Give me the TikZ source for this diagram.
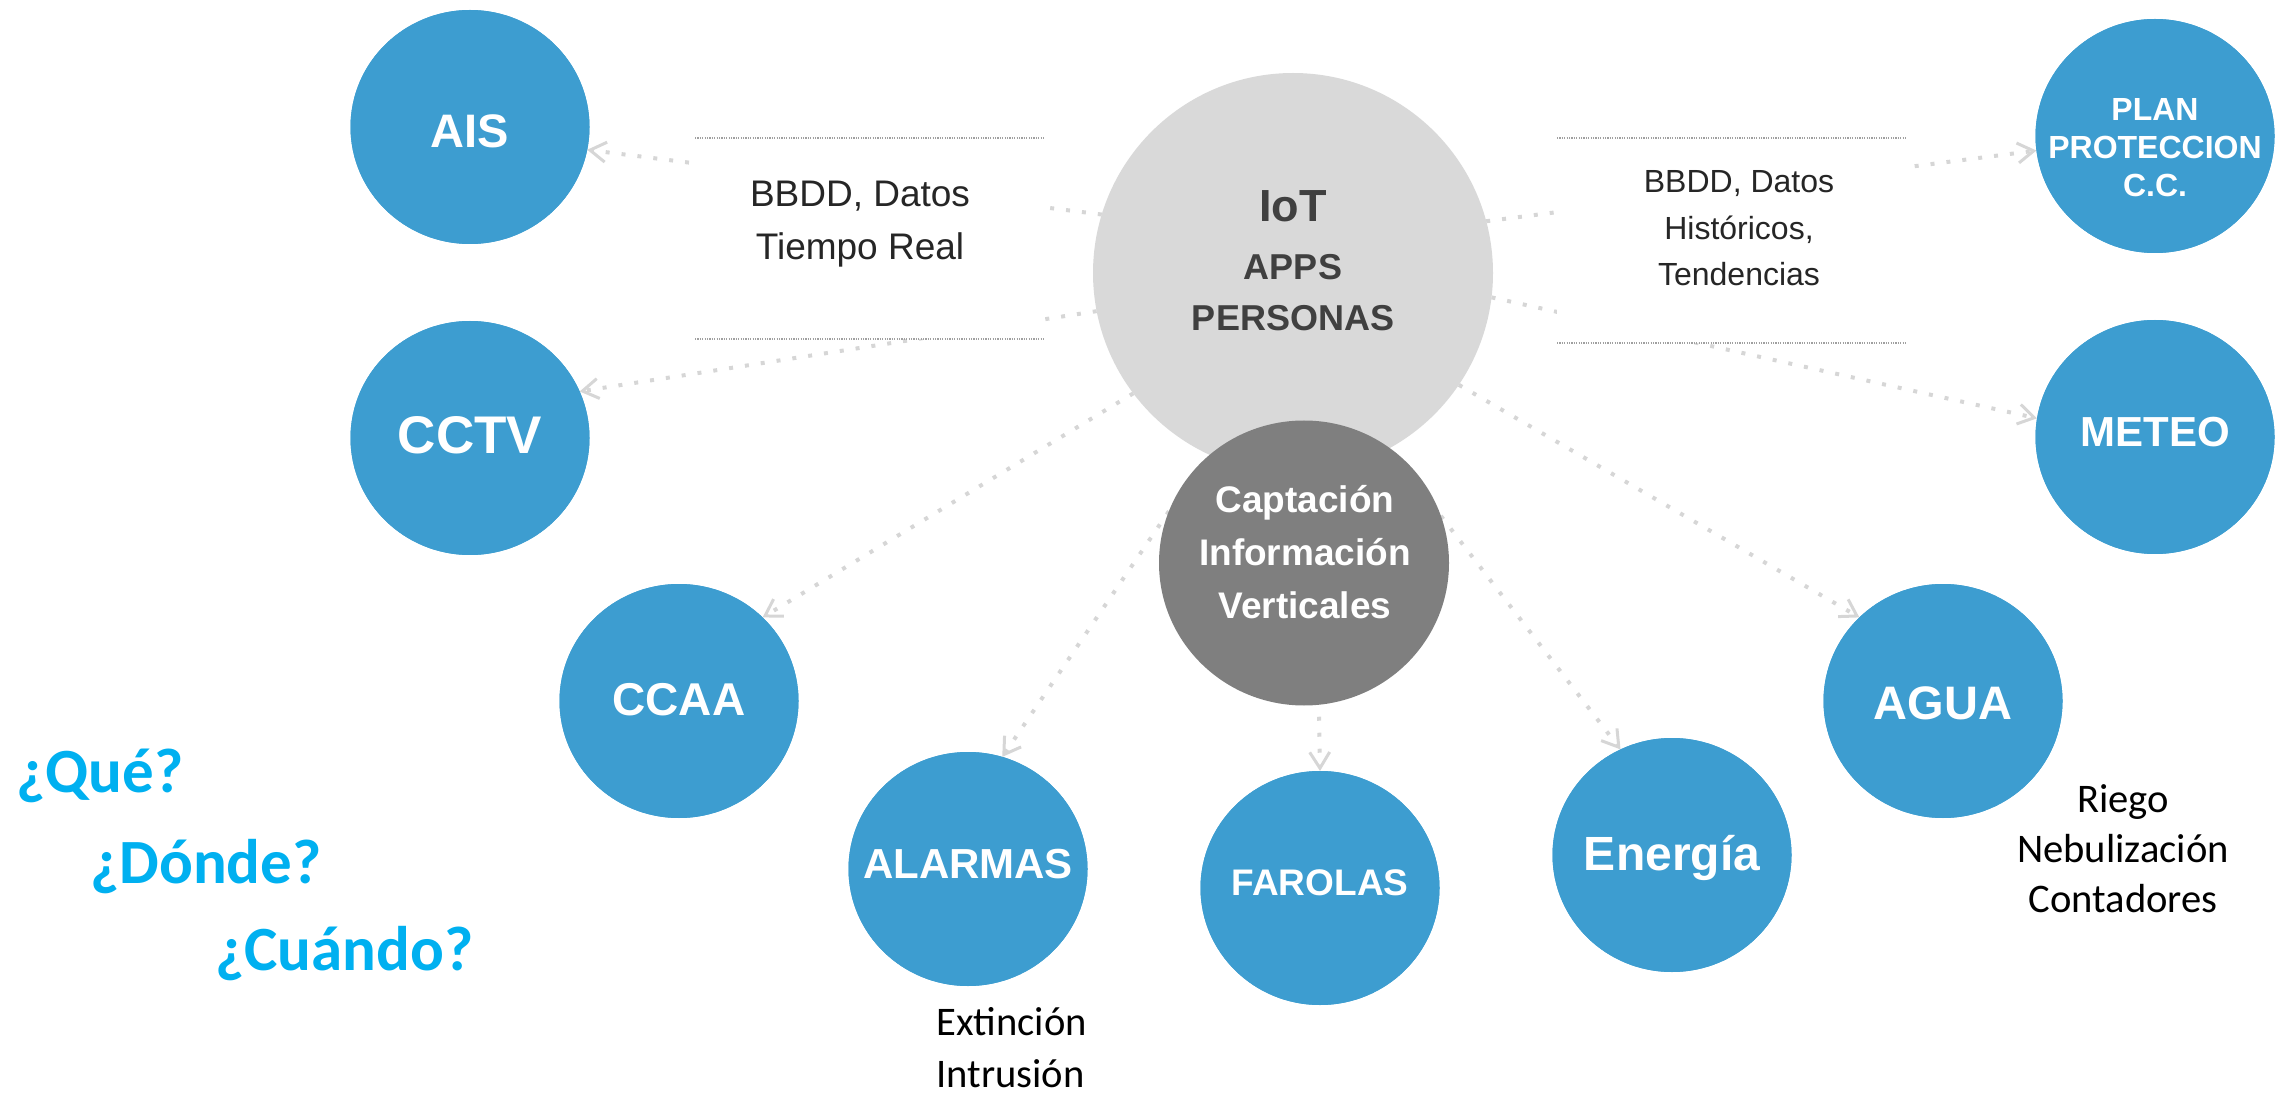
\documentclass[tikz,border=0pt]{standalone}
\usepackage{fontspec}
\setmainfont{Liberation Sans}
\newfontfamily\calibri{Carlito}
\usetikzlibrary{arrows.meta,shapes.geometric}
\definecolor{blueC}{RGB}{61,157,208}
\definecolor{lgrey}{RGB}{217,217,217}
\definecolor{dgrey}{RGB}{127,127,127}
\definecolor{arrowC}{RGB}{214,214,214}
\definecolor{qblue}{RGB}{0,176,240}
\definecolor{txtgrey}{RGB}{64,64,64}
\definecolor{txtdark}{RGB}{38,38,38}
\definecolor{lineC}{RGB}{160,160,160}
\begin{document}
\begin{tikzpicture}[x=0.5pt,y=-0.5pt,
  bubble/.style={ellipse, fill=blueC, minimum width=119.5pt, minimum height=117pt, inner sep=0pt, outer sep=0pt},
  lbl/.style={text=white, anchor=base, align=center, inner sep=0pt},
  flow/.style={draw=arrowC, line width=2pt, dash pattern=on 2pt off 6pt,
    -{Straight Barb[length=8pt,width=10pt,line width=1.5pt]}},
  whitebox/.style={fill=white, anchor=north west, inner sep=0pt, outer sep=0pt},
  boxline/.style={draw=lineC, line width=0.6pt, dash pattern=on 0.6pt off 0.6pt},
  boxtext/.style={text=txtdark, anchor=base, align=center, inner sep=0pt},
  qtext/.style={text=qblue, anchor=base west, inner sep=0pt, font=\calibri\bfseries\fontsize{31.5}{36}\selectfont},
  note/.style={text=black, inner sep=0pt, font=\calibri\fontsize{20.3}{25.5}\selectfont}
]
\useasboundingbox (0,0) rectangle (2282,1096);

% central circles (geometry only, filled later)
\path (1293,273) node[circle, minimum size=200pt, inner sep=0pt, outer sep=0pt] (iot) {};
\path (1304,563) node[ellipse, minimum width=145pt, minimum height=142.5pt, inner sep=0pt, outer sep=0pt] (capt) {};

% outer circles
\node[bubble] (ais) at (470,127) {};
\node[bubble] (cctv) at (470,438) {};
\node[bubble] (ccaa) at (679,701) {};
\node[bubble] (alarmas) at (968,869) {};
\node[bubble] (farolas) at (1320,888) {};
\node[bubble] (energia) at (1672,855) {};
\node[bubble] (agua) at (1943,701) {};
\node[bubble] (meteo) at (2155,437) {};
\node[bubble] (plan) at (2155,136) {};

% connectors
\draw[flow] (iot.163.7) -- (ais.349);
\draw[flow] (iot.191.5) -- (cctv.23.5);
\draw[flow] (iot.15.7) -- (plan.187);
\draw[flow] (iot.353.8) -- (meteo.171.5);
\draw[flow] (iot.217.4) -- (ccaa.45);
\draw[flow] (iot.326.3) -- (agua.135.7);
\draw[flow] (capt.159.8) -- (alarmas.73.2);
\draw[flow, shorten <=6pt] (capt.276) -- (farolas.north);
\draw[flow] (capt.19.3) -- (energia.116.1);

% text boxes covering connectors
\node[whitebox, minimum width=175pt, minimum height=100.5pt] (boxL) at (695,138) {};
\draw[boxline] (boxL.north west) -- (boxL.north east);
\draw[boxline] (boxL.south west) -- (boxL.south east);
\node[whitebox, minimum width=175pt, minimum height=102.5pt] (boxR) at (1557,138) {};
\draw[boxline] (boxR.north west) -- (boxR.north east);
\draw[boxline] (boxR.south west) -- (boxR.south east);

\node[boxtext, font=\fontsize{18.5}{26.5}\selectfont] (boxLt) at (860,260) {BBDD, Datos\\Tiempo Real};
\node[boxtext, font=\fontsize{16}{23.25}\selectfont] (boxRt) at (1739,286) {BBDD, Datos\\Históricos,\\Tendencias};

% fill central circles
\fill[lgrey] (iot.center) circle[radius=200];
\fill[dgrey] (capt.center) ellipse[x radius=145, y radius=142.5];

% outer circles on top
\foreach \n in {ais,cctv,ccaa,alarmas,farolas,energia,agua,meteo,plan}
  \fill[blueC] (\n.center) ellipse[x radius=119.5, y radius=117];

% labels
\node[inner sep=0pt, anchor=base, text=txtgrey, font=\bfseries\fontsize{22.5}{27}\selectfont] (iott) at (1293,222) {IoT};
\node[inner sep=0pt, anchor=base, align=center, text=txtgrey, font=\bfseries\fontsize{18}{25.5}\selectfont] (iota) at (1293,331) {APPS\\PERSONAS};
\node[lbl, font=\bfseries\fontsize{18.5}{26.5}\selectfont] (captt) at (1305,618) {Captación\\Información\\Verticales};

\node[lbl, font=\bfseries\fontsize{23.5}{28}\selectfont] (aist) at (470,148) {AIS};
\node[lbl, font=\bfseries\fontsize{26.5}{30}\selectfont] (cctvt) at (470,454) {CCTV};
\node[lbl, font=\bfseries\fontsize{23}{28}\selectfont] (ccaat) at (679,715) {CCAA};
\node[lbl, font=\bfseries\fontsize{21}{25}\selectfont] (alarmast) at (968,878) {ALARMAS};
\node[lbl, font=\bfseries\fontsize{18.5}{22}\selectfont] (farolast) at (1320,895) {FAROLAS};
\node[lbl, font=\bfseries\fontsize{24}{28}\selectfont] (energiat) at (1672,870) {Energía};
\node[lbl, font=\bfseries\fontsize{23.5}{28}\selectfont] (aguat) at (1943,719) {AGUA};
\node[lbl, font=\bfseries\fontsize{21}{25}\selectfont] (meteot) at (2155,447) {METEO};
\node[lbl, font=\bfseries\fontsize{16}{19}\selectfont] (plant) at (2155,197) {PLAN\\PROTECCION\\C.C.};

% questions
\node[qtext] (q1) at (16,792) {¿Qué?};
\node[qtext] (q2) at (90,883) {¿Dónde?};
\node[qtext] (q3) at (215,970) {¿Cuándo?};

% notes
\node[note, anchor=base west, align=left, font=\calibri\fontsize{20.3}{26}\selectfont] (alnote) at (936,1087) {Extinción\\Intrusión};
\node[note, anchor=base, align=center, font=\calibri\fontsize{20.3}{25}\selectfont] (aguanote) at (2123,912) {Riego\\Nebulización\\Contadores};
\end{tikzpicture}
\end{document}
